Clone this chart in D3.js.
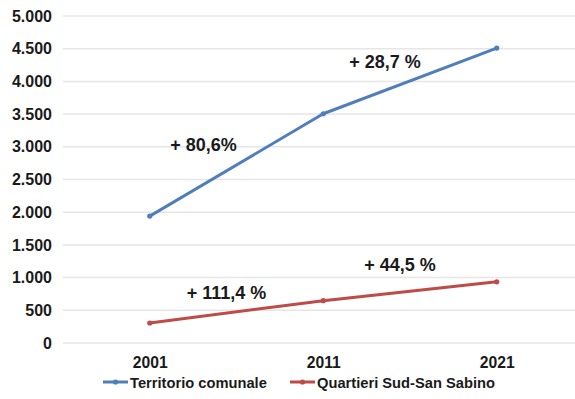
<!DOCTYPE html>
<html><head><meta charset="utf-8">
<script src="https://cdn.jsdelivr.net/npm/d3@7"></script>
<style>
body{margin:0;background:#fff;}
text{font-family:"Liberation Sans",Arial,sans-serif;font-weight:bold;fill:#1a1a1a;}
</style></head>
<body><svg id="c" width="575" height="399"></svg>
<script>
const years = ["2001","2011","2021"];
const territorio = [1940, 3505, 4510];
const quartieri = [306, 647, 935];
const yTicks = [0,500,1000,1500,2000,2500,3000,3500,4000,4500,5000];
const seriesNames = ["Territorio comunale","Quartieri Sud-San Sabino"];
const growthLabels = [
  {text:"+ 80,6%", series:0, from:0},
  {text:"+ 28,7 %", series:0, from:1},
  {text:"+ 111,4 %", series:1, from:0},
  {text:"+ 44,5 %", series:1, from:1}
];

const svg = d3.select("#c");
const W=575,H=399;
const m={left:63};
const x = d3.scalePoint().domain(years).range([m.left+86.75, m.left+86.75+2*173.5]);
const y = d3.scaleLinear().domain([0,5000]).range([343,16]);
const fmt = d => d3.format(",")(d).replace(/,/g,".");

// gridlines
svg.append("g").selectAll("line").data(yTicks).join("line")
  .attr("x1",m.left).attr("x2",W).attr("y1",d=>y(d)).attr("y2",d=>y(d))
  .attr("stroke","#e6e6e6").attr("stroke-width",1.5);

// y axis labels
const ya = svg.append("g").attr("transform",`translate(${m.left},0)`)
  .call(d3.axisLeft(y).tickValues(yTicks).tickFormat(fmt).tickSize(0).tickPadding(11));
ya.select(".domain").remove();
ya.selectAll("text").style("font-size","16px").style("font-family","Liberation Sans, Arial").style("font-weight","bold").attr("fill","#1a1a1a");

// x axis labels
const xa = svg.append("g").attr("transform",`translate(0,${y(0)})`)
  .call(d3.axisBottom(x).tickSize(0).tickPadding(14));
xa.select(".domain").remove();
xa.selectAll("text").style("font-size","15.7px").style("font-family","Liberation Sans, Arial").style("font-weight","bold").attr("fill","#1a1a1a");

const colors = ["#4F7EBB","#BE4B48"];
const data = [territorio, quartieri];
const line = d3.line().x((d,i)=>x(years[i])).y(d=>y(d));
data.forEach((s,k)=>{
  svg.append("path").datum(s).attr("d",line).attr("fill","none")
    .attr("stroke",colors[k]).attr("stroke-width",3).attr("stroke-linejoin","round");
  svg.append("g").selectAll("circle").data(s).join("circle")
    .attr("cx",(d,i)=>x(years[i])).attr("cy",d=>y(d)).attr("r",2.6).attr("fill",colors[k]);
});

// growth labels
const offsets = [[-33,-14],[-25,-13],[-10,-13],[-10,-20]];
svg.append("g").selectAll("text").data(growthLabels).join("text")
  .attr("x",(d,i)=>(x(years[d.from])+x(years[d.from+1]))/2+offsets[i][0])
  .attr("y",(d,i)=>y((data[d.series][d.from]+data[d.series][d.from+1])/2)+offsets[i][1])
  .attr("text-anchor","middle").style("font-size","18px").text(d=>d.text);

// legend
const leg = svg.append("g").attr("transform","translate(0,382)");
const legX = [103,290];
seriesNames.forEach((n,k)=>{
  leg.append("line").attr("x1",legX[k]).attr("x2",legX[k]+25).attr("y1",0).attr("y2",0)
    .attr("stroke",colors[k]).attr("stroke-width",3);
  leg.append("circle").attr("cx",legX[k]+12.5).attr("cy",0).attr("r",2.6).attr("fill",colors[k]);
  leg.append("text").attr("x",legX[k]+27).attr("y",5.5).style("font-size","14.7px").text(n);
});
</script></body></html>
